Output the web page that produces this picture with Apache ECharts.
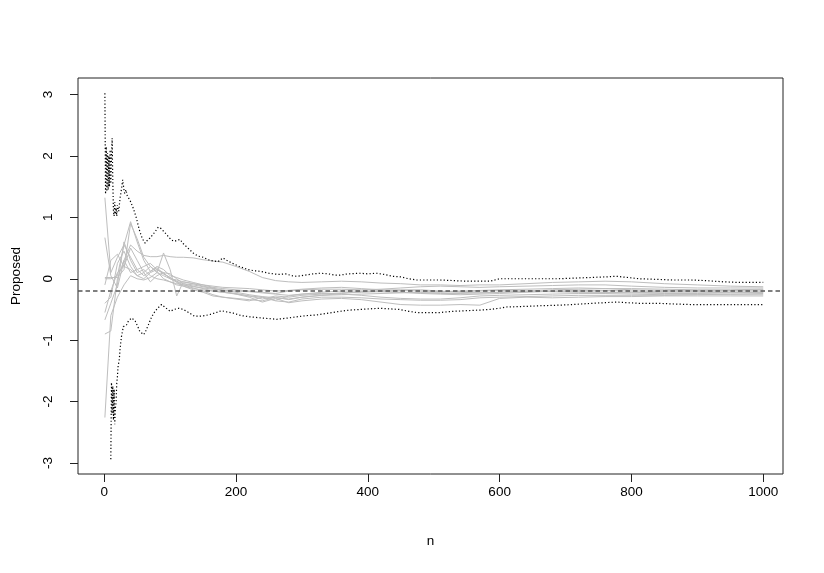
<!DOCTYPE html>
<html>
<head>
<meta charset="utf-8">
<script src="https://cdn.jsdelivr.net/npm/echarts@6/dist/echarts.min.js"></script>
<style>
html,body{margin:0;padding:0;background:#fff;}
#chart{width:824px;height:573px;}
</style>
</head>
<body>
<div id="chart"></div>
<script>
// ---- data ----
const xTicks = [0, 200, 400, 600, 800, 1000];
const yTicks = [-3, -2, -1, 0, 1, 2, 3];
const targetValue = -0.2;

// upper dotted band
const upperN = [1,2,3,4,5,6,7,8,9,10,11,12,13,14,15,16,17,18,19,20,22,24,26,28,30,31,33,35,37,39,41,44,47,49,52,54,58,62,65,69,74,78,82,86,89,93,97,102,107,111,115,120,127,135,142,150,158,165,173,180,186,193,205,218,228,238,250,264,275,285,292,305,317,327,340,350,358,370,388,400,413,425,438,450,462,474,490,509,530,550,570,585,600,615,640,661,690,711,736,760,777,795,812,840,862,890,913,940,964,985,1000];
const upperV = [3.02,1.38,2.15,1.42,2.05,1.45,2.0,1.5,2.1,1.55,1.95,2.29,1.6,1.1,1.02,1.25,1.05,1.15,1.02,1.2,1.1,1.31,1.45,1.61,1.45,1.39,1.45,1.35,1.37,1.28,1.23,1.15,1.05,0.98,0.85,0.77,0.65,0.58,0.62,0.66,0.72,0.78,0.84,0.82,0.80,0.74,0.69,0.63,0.61,0.63,0.64,0.57,0.5,0.42,0.37,0.35,0.31,0.29,0.28,0.34,0.30,0.26,0.2,0.15,0.13,0.12,0.09,0.07,0.08,0.05,0.04,0.06,0.08,0.09,0.08,0.06,0.06,0.08,0.09,0.08,0.09,0.07,0.04,0.03,0.0,-0.02,-0.02,-0.02,-0.03,-0.04,-0.04,-0.04,0.0,0.0,0.0,0.0,0.0,0.01,0.02,0.03,0.04,0.02,0.0,-0.01,-0.02,-0.02,-0.03,-0.05,-0.06,-0.06,-0.06];

// lower dotted band
const lowerN = [10,11,12,13,14,15,16,17,18,19,20,21,23,24,26,29,31,34,37,40,42,45,47,51,54,57,60,63,67,72,77,82,87,93,100,106,113,120,128,137,145,153,161,170,178,186,196,208,221,240,262,278,292,307,322,340,358,373,388,403,418,433,448,462,474,490,509,530,550,570,585,600,610,640,661,690,711,740,777,795,812,840,862,890,913,950,1000];
const lowerV = [-2.94,-1.69,-2.2,-1.75,-2.3,-1.8,-2.37,-2.1,-2.02,-1.7,-1.6,-1.43,-1.3,-1.15,-0.95,-0.78,-0.8,-0.75,-0.68,-0.7,-0.64,-0.66,-0.69,-0.78,-0.86,-0.88,-0.91,-0.85,-0.75,-0.62,-0.53,-0.47,-0.42,-0.47,-0.53,-0.5,-0.48,-0.5,-0.55,-0.61,-0.61,-0.6,-0.58,-0.55,-0.52,-0.54,-0.56,-0.6,-0.62,-0.64,-0.66,-0.64,-0.62,-0.6,-0.59,-0.56,-0.53,-0.51,-0.5,-0.49,-0.48,-0.49,-0.5,-0.53,-0.55,-0.55,-0.55,-0.53,-0.52,-0.51,-0.5,-0.48,-0.46,-0.45,-0.44,-0.43,-0.42,-0.4,-0.38,-0.39,-0.4,-0.4,-0.41,-0.42,-0.42,-0.42,-0.42];

// grey chains (running estimates)
const chainN = [1,10,20,30,40,50,60,70,80,90,100,110,120,135,150,165,180,200,220,240,260,280,300,330,360,390,420,450,480,510,540,570,600,640,680,720,760,800,850,900,950,1000];
const chainA = [1.32,0.10,0.35,0.55,0.93,0.60,0.30,0.12,0.18,0.08,0.02,-0.04,-0.08,-0.10,-0.13,-0.16,-0.18,-0.22,-0.26,-0.29,-0.31,-0.33,-0.30,-0.27,-0.24,-0.21,-0.19,-0.18,-0.18,-0.2,-0.22,-0.23,-0.22,-0.2,-0.18,-0.17,-0.16,-0.16,-0.17,-0.18,-0.18,-0.17];
const chainB = [0.67,0.05,-0.15,0.30,0.55,0.45,0.38,0.36,0.36,0.38,0.36,0.35,0.35,0.34,0.31,0.29,0.27,0.20,0.12,0.02,-0.03,-0.05,-0.06,-0.05,-0.04,-0.05,-0.07,-0.08,-0.1,-0.1,-0.11,-0.1,-0.1,-0.08,-0.06,-0.05,-0.04,-0.05,-0.08,-0.1,-0.12,-0.13];
const chainC = [0.02,0.02,0.02,0.15,0.90,0.65,0.35,0.20,0.10,0.42,0.15,-0.28,-0.05,-0.08,-0.12,-0.15,-0.2,-0.25,-0.3,-0.38,-0.32,-0.39,-0.36,-0.33,-0.32,-0.34,-0.38,-0.42,-0.43,-0.43,-0.42,-0.43,-0.32,-0.3,-0.31,-0.3,-0.29,-0.29,-0.28,-0.28,-0.28,-0.28];
const chainD = [0.0,0.0,0.05,0.55,0.35,0.15,0.05,0.12,0.2,0.15,0.05,0.02,-0.02,-0.06,-0.1,-0.14,-0.16,-0.18,-0.2,-0.22,-0.24,-0.2,-0.18,-0.17,-0.17,-0.18,-0.17,-0.15,-0.13,-0.12,-0.13,-0.14,-0.13,-0.12,-0.11,-0.1,-0.1,-0.12,-0.14,-0.15,-0.15,-0.15];
const chainE = [-0.4,-0.3,0.25,0.45,0.20,0.05,0.0,0.1,0.15,0.1,0.0,-0.05,-0.1,-0.15,-0.2,-0.26,-0.3,-0.33,-0.36,-0.3,-0.35,-0.28,-0.25,-0.24,-0.25,-0.27,-0.3,-0.32,-0.33,-0.33,-0.31,-0.28,-0.27,-0.26,-0.25,-0.24,-0.24,-0.25,-0.26,-0.26,-0.25,-0.24];
const chainF = [-0.55,-0.2,0.1,0.2,0.5,0.3,0.1,-0.05,0.05,0.1,0.08,0.0,-0.08,-0.12,-0.16,-0.2,-0.22,-0.24,-0.28,-0.33,-0.28,-0.3,-0.27,-0.25,-0.23,-0.22,-0.21,-0.22,-0.24,-0.25,-0.26,-0.25,-0.24,-0.22,-0.2,-0.19,-0.19,-0.2,-0.21,-0.21,-0.2,-0.2];
const chainG = [-0.67,-0.4,-0.1,0.6,0.3,0.1,0.15,0.05,0.0,-0.02,-0.05,-0.1,-0.12,-0.18,-0.22,-0.28,-0.3,-0.32,-0.34,-0.36,-0.3,-0.34,-0.3,-0.27,-0.26,-0.25,-0.24,-0.23,-0.22,-0.22,-0.21,-0.2,-0.19,-0.2,-0.21,-0.22,-0.22,-0.22,-0.23,-0.23,-0.22,-0.22];
const chainH = [-0.9,-0.85,0.0,0.3,0.1,0.15,0.2,0.25,0.15,0.08,0.02,-0.06,-0.12,-0.16,-0.18,-0.2,-0.22,-0.25,-0.28,-0.3,-0.36,-0.38,-0.33,-0.3,-0.3,-0.31,-0.33,-0.34,-0.35,-0.35,-0.34,-0.31,-0.3,-0.29,-0.28,-0.27,-0.27,-0.27,-0.27,-0.26,-0.26,-0.26];
const chainI = [-2.26,-0.6,-0.3,-0.1,0.05,0.0,-0.02,0.02,0.1,0.05,0.0,-0.02,-0.05,-0.08,-0.1,-0.12,-0.14,-0.15,-0.16,-0.18,-0.2,-0.19,-0.17,-0.15,-0.14,-0.16,-0.18,-0.19,-0.2,-0.21,-0.2,-0.19,-0.18,-0.17,-0.16,-0.15,-0.16,-0.18,-0.19,-0.19,-0.19,-0.18];
const chainJ = [-0.1,0.3,0.4,0.2,0.15,0.05,0.1,0.2,0.12,0.0,-0.05,-0.08,-0.1,-0.13,-0.15,-0.17,-0.19,-0.2,-0.21,-0.23,-0.25,-0.27,-0.25,-0.22,-0.2,-0.2,-0.21,-0.22,-0.23,-0.24,-0.24,-0.23,-0.22,-0.21,-0.21,-0.21,-0.22,-0.23,-0.24,-0.24,-0.23,-0.22];
const chains = [chainA, chainB, chainC, chainD, chainE, chainF, chainG, chainH, chainI, chainJ];

// ---- chart ----
const zip = (xs, ys) => xs.map((x, i) => [x, ys[i]]);
const FONT = 'Liberation Sans, Arial, Helvetica, sans-serif';
const FS = 13.5;

const series = chains.map(c => ({
  type: 'line',
  data: zip(chainN, c),
  showSymbol: false,
  symbol: 'none',
  silent: true,
  lineStyle: { color: '#bebebe', width: 1 },
  z: 2
}));
series.push({
  type: 'line', data: zip(upperN, upperV), showSymbol: false, symbol: 'none', silent: true,
  lineStyle: { color: '#000', width: 1.2, type: [1.2, 2.2] }, z: 3
});
series.push({
  type: 'line', data: zip(lowerN, lowerV), showSymbol: false, symbol: 'none', silent: true,
  lineStyle: { color: '#000', width: 1.2, type: [1.2, 2.2] }, z: 3,
  markLine: {
    silent: true, symbol: ['none', 'none'], label: { show: false },
    lineStyle: { color: '#555', width: 1.5, type: [4.5, 3] },
    data: [{ yAxis: targetValue }]
  }
});

const chart = echarts.init(document.getElementById('chart'), null, { renderer: 'canvas' });
chart.setOption({
  animation: false,
  backgroundColor: '#fff',
  grid: { left: 78, top: 78, width: 705, height: 396, show: true, borderColor: '#222', borderWidth: 1, backgroundColor: 'transparent' },
  xAxis: {
    type: 'value', min: -39.8, max: 1030,
    name: 'n', nameLocation: 'middle', nameGap: 60,
    nameTextStyle: { fontFamily: FONT, fontSize: FS, color: '#000' },
    axisLine: { show: false, onZero: false },
    axisTick: { show: true, inside: false, length: 8, customValues: xTicks, lineStyle: { color: '#222' } },
    axisLabel: { customValues: xTicks, formatter: v => String(v), fontFamily: FONT, fontSize: FS, color: '#000', margin: 11 },
    splitLine: { show: false }
  },
  yAxis: {
    type: 'value', min: -3.18, max: 3.27,
    name: 'Proposed', nameLocation: 'middle', nameGap: 55, nameRotate: 90,
    nameTextStyle: { fontFamily: FONT, fontSize: FS, color: '#000' },
    axisLine: { show: false, onZero: false },
    axisTick: { show: true, inside: false, length: 8, customValues: yTicks, lineStyle: { color: '#222' } },
    axisLabel: { customValues: yTicks, formatter: v => String(v), rotate: 90, fontFamily: FONT, fontSize: FS, color: '#000', margin: 23 },
    splitLine: { show: false }
  },
  series: series
});
</script>
</body>
</html>
